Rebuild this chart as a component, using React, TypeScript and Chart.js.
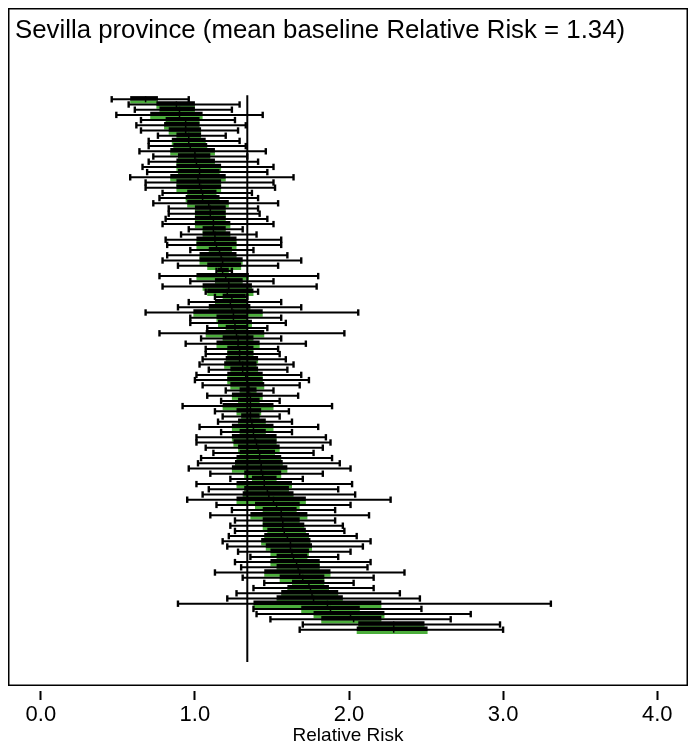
import React, { useEffect, useRef } from 'react';
import { Chart, registerables } from 'chart.js';

Chart.register(...registerables);

const TITLE = 'Sevilla province (mean baseline Relative Risk = 1.34)';
const X_TITLE = 'Relative Risk';
const X_TICKS = [0, 1, 2, 3, 4];
const X_MIN = -0.213;
const X_MAX = 4.2;
const REF_VALUE = 1.34;
const REF_ROWS = [-0.8, 108.2];

// whisker lower end
const LOWER = [
  0.46, 0.57, 0.61, 0.49, 0.65, 0.62, 0.65, 0.76, 0.70, 0.70,
  0.64, 0.73, 0.70, 0.66, 0.69, 0.58, 0.68, 0.68, 0.79, 0.77,
  0.73, 0.83, 0.83, 0.81, 0.79, 0.96, 0.91, 0.81, 0.82, 0.97,
  0.82, 0.79, 0.89, 1.14, 0.77, 0.97, 0.79, 1.07, 1.13, 0.96,
  0.89, 0.68, 0.97, 0.97, 1.08, 0.77, 1.04, 0.94, 1.07, 1.07,
  1.05, 1.03, 1.09, 1.01, 1.00, 1.05, 1.20, 1.08, 1.17, 0.92,
  1.13, 1.18, 1.15, 1.03, 1.17, 1.01, 1.01, 1.07, 1.12, 1.04,
  1.02, 0.96, 1.10, 1.23, 1.01, 1.09, 1.05, 0.95, 1.14, 1.24,
  1.10, 1.26, 1.23, 1.26, 1.22, 1.18, 1.21, 1.28, 1.36, 1.26,
  1.30, 1.13, 1.31, 1.45, 1.38, 1.27, 1.21, 0.89, 1.38, 1.40,
  1.49, 1.70, 1.68,
];
// whisker upper end
const UPPER = [
  0.96, 1.29, 1.24, 1.44, 1.26, 1.33, 1.28, 1.20, 1.29, 1.33,
  1.46, 1.34, 1.41, 1.51, 1.47, 1.64, 1.51, 1.52, 1.37, 1.41,
  1.54, 1.41, 1.42, 1.47, 1.51, 1.31, 1.40, 1.56, 1.56, 1.38,
  1.60, 1.69, 1.54, 1.24, 1.80, 1.51, 1.79, 1.41, 1.34, 1.56,
  1.69, 2.06, 1.56, 1.59, 1.47, 1.97, 1.56, 1.72, 1.54, 1.55,
  1.59, 1.64, 1.60, 1.69, 1.74, 1.68, 1.51, 1.67, 1.55, 1.89,
  1.61, 1.55, 1.63, 1.80, 1.63, 1.85, 1.88, 1.83, 1.77, 1.89,
  1.94, 2.01, 1.83, 1.70, 2.02, 1.93, 2.04, 2.27, 2.01, 1.91,
  2.13, 1.91, 1.96, 1.97, 2.05, 2.14, 2.09, 2.01, 1.93, 2.14,
  2.12, 2.36, 2.16, 2.03, 2.16, 2.33, 2.46, 3.31, 2.47, 2.79,
  2.66, 2.98, 3.00,
];
// box lower edge
const Q1 = [
  0.58, 0.75, 0.77, 0.71, 0.81, 0.80, 0.83, 0.88, 0.85, 0.86,
  0.84, 0.89, 0.88, 0.88, 0.89, 0.84, 0.88, 0.88, 0.95, 0.94,
  0.95, 1.00, 1.00, 1.00, 1.00, 1.05, 1.05, 1.01, 1.01, 1.09,
  1.03, 1.03, 1.08, 1.15, 1.01, 1.13, 1.05, 1.08, 1.18, 1.13,
  1.09, 0.99, 1.14, 1.15, 1.20, 1.07, 1.18, 1.14, 1.21, 1.21,
  1.20, 1.19, 1.23, 1.21, 1.21, 1.23, 1.29, 1.24, 1.28, 1.18,
  1.27, 1.30, 1.28, 1.24, 1.29, 1.24, 1.25, 1.28, 1.29, 1.27,
  1.26, 1.24, 1.32, 1.37, 1.27, 1.32, 1.31, 1.27, 1.39, 1.44,
  1.36, 1.44, 1.44, 1.47, 1.45, 1.43, 1.46, 1.49, 1.53, 1.49,
  1.53, 1.45, 1.55, 1.63, 1.60, 1.56, 1.53, 1.38, 1.69, 1.77,
  1.82, 2.06, 2.05,
];
// box upper edge
const Q3 = [
  0.76, 1.00, 1.00, 1.05, 1.03, 1.03, 1.04, 1.04, 1.07, 1.08,
  1.13, 1.10, 1.13, 1.17, 1.16, 1.20, 1.17, 1.17, 1.14, 1.16,
  1.22, 1.20, 1.20, 1.20, 1.23, 1.20, 1.23, 1.27, 1.27, 1.24,
  1.27, 1.31, 1.30, 1.22, 1.35, 1.31, 1.37, 1.38, 1.33, 1.34,
  1.36, 1.44, 1.34, 1.37, 1.34, 1.45, 1.38, 1.42, 1.38, 1.38,
  1.41, 1.40, 1.41, 1.44, 1.44, 1.45, 1.40, 1.44, 1.42, 1.51,
  1.43, 1.42, 1.46, 1.51, 1.46, 1.53, 1.53, 1.55, 1.52, 1.56,
  1.57, 1.60, 1.56, 1.53, 1.63, 1.61, 1.64, 1.72, 1.68, 1.66,
  1.73, 1.68, 1.71, 1.72, 1.74, 1.75, 1.76, 1.74, 1.73, 1.81,
  1.81, 1.88, 1.84, 1.84, 1.87, 1.93, 1.96, 2.21, 2.07, 2.23,
  2.21, 2.49, 2.51,
];
// median
const MEDIAN = [
  0.68, 0.88, 0.90, 0.90, 0.94, 0.94, 0.94, 0.96, 0.96, 0.97,
  1.00, 1.00, 1.01, 1.03, 1.03, 1.02, 1.03, 1.04, 1.05, 1.05,
  1.09, 1.10, 1.10, 1.12, 1.12, 1.12, 1.13, 1.13, 1.14, 1.16,
  1.17, 1.18, 1.17, 1.18, 1.20, 1.22, 1.22, 1.21, 1.24, 1.23,
  1.24, 1.25, 1.25, 1.26, 1.26, 1.27, 1.28, 1.28, 1.29, 1.29,
  1.29, 1.31, 1.31, 1.33, 1.34, 1.35, 1.35, 1.36, 1.36, 1.36,
  1.36, 1.36, 1.37, 1.38, 1.38, 1.39, 1.40, 1.41, 1.42, 1.42,
  1.43, 1.43, 1.44, 1.45, 1.45, 1.47, 1.48, 1.51, 1.53, 1.56,
  1.56, 1.57, 1.57, 1.58, 1.60, 1.62, 1.62, 1.63, 1.64, 1.66,
  1.67, 1.68, 1.70, 1.74, 1.75, 1.76, 1.77, 1.86, 1.88, 2.01,
  2.03, 2.29, 2.29,
];

const FONT = '"Liberation Sans", Arial, Helvetica, sans-serif';
const GREEN = '#4cae3c';

export default function App() {
  const ref = useRef<HTMLCanvasElement>(null);

  useEffect(() => {
    document.body.style.margin = '0';
    const canvas = ref.current;
    if (!canvas) return;

    const rows = LOWER.map((_, i) => i);
    const ROW_PX = 5.2;
    const AREA_H = 678;
    const FIRST_ROW_PX = 91.3;
    const yMin = -FIRST_ROW_PX / ROW_PX;
    const span = AREA_H / ROW_PX;
    const blackShift = 1.0 / ROW_PX;
    const greenShift = -2.6 / ROW_PX;
    const pct = (px: number) => px / ROW_PX;

    const hiddenY = (min: number) => ({
      type: 'linear' as const,
      axis: 'y' as const,
      position: 'left' as const,
      display: false,
      reverse: true,
      offset: false,
      min,
      max: min + span,
      grid: { display: false, offset: false },
    });

    const framePlugin = {
      id: 'frameAndTitle',
      afterDraw(chart: any) {
        const { ctx, chartArea: a } = chart;
        ctx.save();
        ctx.strokeStyle = '#000';
        ctx.lineWidth = 1.5;
        ctx.strokeRect(a.left + 0.75, a.top + 0.75, a.right - a.left - 1.5, a.bottom - a.top - 1.5);
        ctx.fillStyle = '#000';
        ctx.font = `25.8px ${FONT}`;
        ctx.textBaseline = 'alphabetic';
        ctx.textAlign = 'left';
        ctx.fillText(TITLE, a.left + 7, a.top + 30);
        ctx.restore();
      },
    };

    const barCommon = {
      type: 'bar',
      indexAxis: 'y',
      xAxisID: 'x',
      grouped: false,
      categoryPercentage: 1,
      borderWidth: 0,
    };

    const chart = new Chart(canvas, {
      type: 'bar',
      data: {
        datasets: [
          {
            type: 'scatter',
            label: 'caps',
            data: rows.flatMap((i) => [
              { x: LOWER[i], y: i },
              { x: UPPER[i], y: i },
            ]),
            yAxisID: 'y',
            xAxisID: 'x',
            pointStyle: 'line',
            pointRotation: 90,
            pointRadius: 3.2,
            pointBorderWidth: 2.4,
            pointBorderColor: '#000',
            borderColor: '#000',
            showLine: false,
            order: 0,
          } as any,
          {
            type: 'scatter',
            label: 'median',
            data: rows.map((i) => ({ x: MEDIAN[i], y: i })),
            yAxisID: 'y',
            xAxisID: 'x',
            pointStyle: 'line',
            pointRotation: 90,
            pointRadius: 3,
            pointBorderWidth: 1.5,
            pointBorderColor: '#000',
            borderColor: '#000',
            showLine: false,
            order: 1,
          } as any,
          {
            ...barCommon,
            label: 'whisker',
            data: rows.map((i) => ({ x: [LOWER[i], UPPER[i]], y: i })),
            yAxisID: 'y',
            backgroundColor: '#000',
            barPercentage: pct(2),
            order: 2,
          } as any,
          {
            type: 'scatter',
            label: 'reference',
            data: REF_ROWS.map((r) => ({ x: REF_VALUE, y: r })),
            yAxisID: 'y',
            xAxisID: 'x',
            showLine: true,
            borderColor: '#000',
            borderWidth: 2,
            pointRadius: 0,
            order: 3,
          } as any,
          {
            ...barCommon,
            label: 'boxTop',
            data: rows.map((i) => ({ x: [Q1[i], Q3[i]], y: i })),
            yAxisID: 'yb',
            backgroundColor: '#000',
            barPercentage: pct(4.4),
            order: 4,
          } as any,
          {
            ...barCommon,
            label: 'boxBottom',
            data: rows.map((i) => ({ x: [Q1[i], Q3[i]], y: i })),
            yAxisID: 'yg',
            backgroundColor: GREEN,
            barPercentage: pct(3.2),
            order: 5,
          } as any,
        ],
      },
      options: {
        responsive: false,
        animation: false,
        devicePixelRatio: 1,
        indexAxis: 'y',
        events: [],
        layout: { autoPadding: false, padding: { left: 8, top: 8, right: 3, bottom: 0 } },
        plugins: {
          legend: { display: false },
          tooltip: { enabled: false },
          title: { display: false },
        },
        scales: {
          x: {
            type: 'linear',
            axis: 'x',
            position: 'bottom',
            min: X_MIN,
            max: X_MAX,
            offset: false,
            stacked: false,
            afterBuildTicks: (s: any) => {
              s.ticks = X_TICKS.map((v) => ({ value: v }));
            },
            afterFit: (s: any) => {
              s.height = 63;
              s.paddingLeft = 0;
              s.paddingRight = 0;
            },
            grid: {
              display: true,
              drawOnChartArea: false,
              drawTicks: true,
              tickLength: 14,
              tickWidth: 2,
              tickColor: '#000',
              tickBorderDash: [0, 5, 9, 100],
              offset: false,
            },
            border: { display: false },
            ticks: {
              color: '#000',
              font: { family: FONT, size: 22 },
              padding: 1.5,
              maxRotation: 0,
              autoSkip: false,
              callback: (v: any) => Number(v).toFixed(1),
            },
            title: {
              display: true,
              text: X_TITLE,
              color: '#000',
              font: { family: FONT, size: 19 },
              padding: { top: 0, bottom: 1.6 },
            },
          },
          y: hiddenY(yMin),
          yb: hiddenY(yMin + blackShift),
          yg: hiddenY(yMin + greenShift),
        } as any,
      },
      plugins: [framePlugin],
    } as any);

    return () => chart.destroy();
  }, []);

  return (
    <div style={{ width: 691, height: 749, position: 'relative', overflow: 'hidden' }}>
      <canvas ref={ref} width={691} height={749} style={{ display: 'block', width: 691, height: 749 }} />
    </div>
  );
}
